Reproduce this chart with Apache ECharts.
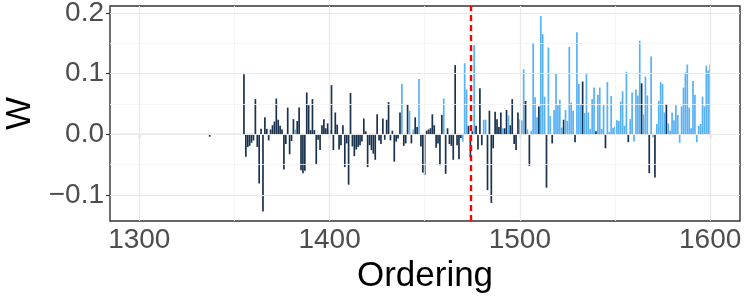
<!DOCTYPE html>
<html><head><meta charset="utf-8">
<script src="https://cdn.jsdelivr.net/npm/echarts@6/dist/echarts.min.js"></script>
<style>html,body{margin:0;padding:0;background:#fff}#c{width:747px;height:299px}</style>
</head><body><div id="c"></div>
<script>
// ---- data ----
const firstOrdering = 1355;
const isolatedOrdering = [1337];
const isolatedW = [-0.004];
const W = [
 0.099,-0.037,-0.021,-0.019,-0.014,-0.010, 0.058,-0.021,-0.081, 0.009, // 1355-1364
-0.127, 0.028, 0.009,-0.010, 0.008, 0.015, 0.021, 0.059, 0.024, 0.014, // 1365-1374
 0.008,-0.058,-0.016, 0.044,-0.033,-0.011, 0.025, 0.008, 0.022, 0.044, // 1375-1384
-0.059,-0.064,-0.060, 0.069, 0.048, 0.007, 0.058, 0.007,-0.050,-0.009, // 1385-1394
-0.026, 0.015, 0.025, 0.010, 0.018, 0.007, 0.081,-0.026, 0.036, 0.016, // 1395-1404
-0.025,-0.018, 0.015,-0.054,-0.015,-0.083, 0.068,-0.020,-0.036,-0.025, // 1405-1414
-0.021,-0.018,-0.012, 0.026, 0.005,-0.054,-0.018,-0.026,-0.032,-0.042, // 1415-1424
 0.033,-0.010,-0.016, 0.026,-0.009, 0.024, 0.053,-0.010, 0.006,-0.045, // 1425-1434
-0.012,-0.007, 0.036, 0.083,-0.019,-0.015, 0.049, 0.039,-0.015, 0.008, // 1435-1444
 0.028, 0.012, 0.091,-0.020,-0.063,-0.067, 0.006, 0.008, 0.010, 0.033, // 1445-1454
 0.015,-0.022,-0.015,-0.051, 0.032, 0.059,-0.065, 0.010,-0.016,-0.019, // 1455-1464
-0.042, 0.114,-0.018,-0.041,-0.006,-0.012, 0.117, 0.074, 0.014,-0.038, // 1465-1474
 0.005, 0.147, 0.014,-0.025, 0.076,-0.018, 0.024, 0.024,-0.092, 0.039, // 1475-1484
-0.113,-0.023, 0.037, 0.025, 0.012, 0.036, 0.010, 0.010, 0.040, 0.031, // 1485-1494
 0.015, 0.058,-0.016,-0.026, 0.036, 0.025, 0.023, 0.107, 0.055, 0.008, // 1495-1504
-0.052, 0.006, 0.151, 0.061, 0.028, 0.046, 0.195, 0.165, 0.062,-0.088, // 1505-1514
 0.143, 0.030,-0.015, 0.040, 0.100, 0.048, 0.057, 0.011, 0.024, 0.040, // 1515-1524
 0.022, 0.144, 0.052, 0.039,-0.013, 0.168, 0.083, 0.050, 0.087, 0.035, // 1525-1534
 0.099, 0.036, 0.009, 0.058, 0.077, 0.005, 0.065, 0.077, 0.009, 0.048, // 1535-1544
-0.023, 0.086, 0.004, 0.063, 0.011, 0.013, 0.023, 0.022, 0.054, 0.071, // 1545-1554
 0.014, 0.103,-0.013, 0.025, 0.069,-0.012, 0.074, 0.064, 0.154, 0.084, // 1555-1564
 0.033, 0.095, 0.064,-0.064, 0.128,-0.005,-0.071, 0.017, 0.055, 0.086, // 1565-1574
 0.083, 0.036, 0.050, 0.018, 0.006, 0.036, 0.023, 0.048, 0.032,-0.014, // 1575-1584
 0.046, 0.077, 0.102, 0.115, 0.044, 0.010, 0.088, 0.065,-0.013, 0.014, // 1585-1594
 0.017, 0.062, 0.046, 0.113, 0.105, 0.115                              // 1595-1600
];
// 0 = dark, 1 = light
const shade = [
 0,0,0,0,0,0,0,0,0,0, 0,0,0,0,0,0,0,0,0,0, 0,0,0,0,0,0,0,1,0,0, // 1355-1384
 0,0,0,0,0,0,0,0,0,0, 0,0,0,0,0,0,0,0,0,0, 0,0,0,0,0,0,0,0,0,0, // 1385-1414
 0,0,0,0,0,0,0,0,0,0, 0,0,0,0,0,0,0,0,0,0, 0,0,0,1,0,0,0,1,0,1, // 1415-1444
 0,0,1,0,0,0,0,0,0,0, 0,0,0,0,0,1,0,0,0,0, 0,0,0,0,0,1,1,1,0,0, // 1445-1474
 0,1,0,0,0,0,1,1,0,0, 0,0,0,0,0,0,1,0,0,1, 0,0,0,0,0,1,1,1,0,1, // 1475-1504
 0,1,1,1,1,0,1,1,1,0, 1,1,0,1,1,1,1,1,0,1, 1,1,1,1,0,1,1,1,0,1, // 1505-1534
 1,1,1,1,1,0,1,1,1,1, 0,1,1,1,1,1,1,1,1,1, 1,1,0,1,1,1,1,1,1,0, // 1535-1564
 1,1,1,0,1,1,0,1,1,1, 1,1,0,1,1,1,1,1,1,1, 1,1,1,1,1,1,1,1,1,1, // 1565-1594
 1,1,1,1,1,1                                                    // 1595-1600
];
const xTicks = [1300, 1400, 1500, 1600];
const xMinor = [1350, 1450, 1550];
const yTicks = [-0.1, 0.0, 0.1, 0.2];
const yMinor = [-0.05, 0.05, 0.15];
const threshold = 1474;
const baselineRange = [1286, 1600];

// ---- build ----
const ordering = isolatedOrdering.slice();
const values = isolatedW.slice();
const shades = [0];
for (let i = 0; i < W.length; i++) { ordering.push(firstOrdering + i); values.push(W[i]); shades.push(shade[i]); }
const DARK = '#1a324d', LIGHT = '#56B1F7';
const barData = ordering.map((x, i) => ({ value: [x, values[i]], itemStyle: { color: shades[i] ? LIGHT : DARK } }));

const FONT = 'Liberation Sans, Arial, sans-serif';
const fmt = v => (v < 0 ? '\u2212' + Math.abs(v).toFixed(1) : Math.abs(v).toFixed(1));
const gridLines = [].concat(
  xMinor.map(v => ({ xAxis: v, lineStyle: { color: '#f2f2f2', width: 0.8 } })),
  yMinor.map(v => ({ yAxis: v, lineStyle: { color: '#f2f2f2', width: 0.8 } })),
  xTicks.map(v => ({ xAxis: v, lineStyle: { color: '#e8e8e8', width: 1.2 } })),
  yTicks.map(v => ({ yAxis: v, lineStyle: { color: '#e8e8e8', width: 1.2 } }))
);

const chart = echarts.init(document.getElementById('c'), null, { renderer: 'canvas' });
chart.setOption({
  animation: false,
  backgroundColor: '#fff',
  grid: { left: 110, right: 7, top: 6, bottom: 78, show: true, borderColor: '#333', borderWidth: 1.4,
          backgroundColor: 'transparent', containLabel: false, outerBoundsMode: 'none' },
  xAxis: {
    type: 'value', min: 1284.6, max: 1615.7,
    splitLine: { show: false }, axisLine: { show: false },
    axisTick: { show: true, customValues: xTicks, length: 4, lineStyle: { color: '#333', width: 1.2 } },
    axisLabel: { customValues: xTicks, fontSize: 28, color: '#4d4d4d', fontFamily: FONT, margin: 5, formatter: v => String(v) },
    name: 'Ordering', nameLocation: 'middle', nameGap: 36,
    nameTextStyle: { fontSize: 35, color: '#000', fontFamily: FONT }
  },
  yAxis: {
    type: 'value', min: -0.1428, max: 0.2114,
    splitLine: { show: false }, axisLine: { show: false },
    axisTick: { show: true, customValues: yTicks, length: 4, lineStyle: { color: '#333', width: 1.2 } },
    axisLabel: { customValues: yTicks, fontSize: 28, color: '#4d4d4d', fontFamily: FONT, margin: 6, formatter: fmt },
    name: 'W', nameLocation: 'middle', nameRotate: 90, nameGap: 71,
    nameTextStyle: { fontSize: 35, color: '#000', fontFamily: FONT }
  },
  series: [
    { type: 'line', data: [], silent: true, z: 0,
      markLine: { silent: true, symbol: 'none', label: { show: false }, lineStyle: { type: 'solid' }, data: gridLines } },
    { type: 'line', data: baselineRange.map(x => [x, 0]), symbol: 'none', silent: true, z: 1,
      lineStyle: { color: '#a8a8a8', width: 1 } },
    { type: 'bar', data: barData, barWidth: 1.7, z: 2, silent: true,
      markLine: { silent: true, symbol: 'none', label: { show: false },
        lineStyle: { color: '#ff0000', type: [6, 4], width: 2.4 }, data: [{ xAxis: threshold }] } }
  ]
});
</script></body></html>
